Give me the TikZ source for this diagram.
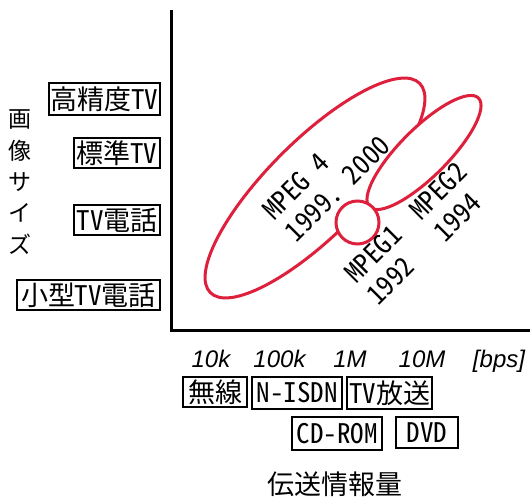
\documentclass[tikz,border=0pt]{standalone}
\usepackage{fontspec}
\setmainfont{Liberation Sans}
\newfontfamily\jp[RawFeature=+hwid]{Noto Sans CJK JP}
\newfontfamily\jpp{Noto Sans CJK JP}
\definecolor{mred}{RGB}{222,32,60}
\begin{document}
\begin{tikzpicture}[x=1pt,y=-1pt,
  box/.style={draw=black, line width=1.2pt, inner sep=0pt, font=\jp\fontsize{27}{27}\selectfont},
  lab/.style={inner sep=0pt, anchor=base west, rotate=45, font=\jp\fontsize{27}{27}\selectfont},
  tick/.style={inner sep=0pt, anchor=base, font=\itshape\fontsize{24}{24}\selectfont},
  vtxt/.style={inner sep=0pt, font=\jpp\fontsize{23}{23}\selectfont},
  oval/.style={draw=mred, line width=3pt, fill=white}]
\useasboundingbox (0,0) rectangle (531,501);

% axes
\coordinate (ytop) at (171,10);
\coordinate (orig) at (171,330);
\coordinate (xend) at (530,330);
\draw[line width=3pt] (ytop) -- (orig) -- (xend);

% ovals
\begin{scope}[shift={(315,188)}, rotate=45]
  \draw[oval] (0,0) ellipse [x radius=148, y radius=47.5];
\end{scope}
\begin{scope}[shift={(424,152.5)}, rotate=45]
  \draw[oval] (0,0) ellipse [x radius=77, y radius=24];
\end{scope}
\draw[oval] (357.5,222.5) circle [radius=21.5];

% oval labels
\node[lab] (m4a) at (274,222) {MPEG\hspace{13.5pt}4};
\node[lab] (m4b) at (296.5,243.5) {1999.\hspace{13.5pt}2000};
\node[lab] (m2a) at (421,222) {MPEG2};
\node[lab] (m2b) at (445,243.5) {1994};
\node[lab] (m1a) at (356,285) {MPEG1};
\node[lab] (m1b) at (378,307) {1992};

% left boxes
\node[box, minimum width=111pt, minimum height=32pt] (hd) at (104.5,99) {高精度TV};
\node[box, minimum width=86pt, minimum height=30pt] (sd) at (117,153) {標準TV};
\node[box, minimum width=86pt, minimum height=30pt] (tvp) at (117,220) {TV電話};
\node[box, minimum width=143pt, minimum height=30pt] (stvp) at (88.5,295) {小型TV電話};

% vertical axis title
\node[vtxt] (v1) at (20,120) {画};
\node[vtxt] (v2) at (20,151) {像};
\node[vtxt] (v3) at (20,182) {サ};
\node[vtxt] (v4) at (20,213) {イ};
\node[vtxt] (v5) at (20,244) {ズ};

% tick labels
\node[tick] (t1) at (211,367) {10k};
\node[tick] (t2) at (279.5,367) {100k};
\node[tick] (t3) at (350,367) {1M};
\node[tick] (t4) at (422,367) {10M};
\node[tick] (t5) at (499,367) {[bps]};

% bottom boxes
\node[box, minimum width=64pt, minimum height=30pt] (wl) at (215,392) {無線};
\node[box, minimum width=90pt, minimum height=32pt] (isdn) at (297,393) {N-ISDN};
\node[box, minimum width=85pt, minimum height=32pt] (tvb) at (389.5,393) {TV放送};
\node[box, minimum width=90pt, minimum height=33pt] (cd) at (337,433.5) {CD-ROM};
\node[box, minimum width=62pt, minimum height=31pt] (dvd) at (427,432.5) {DVD};

% horizontal axis title
\node[inner sep=0pt, font=\jpp\fontsize{27}{27}\selectfont] (htitle) at (335,484) {伝送情報量};
\end{tikzpicture}
\end{document}
